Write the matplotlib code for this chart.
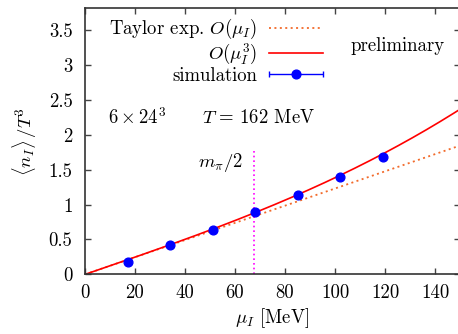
import numpy as np
import matplotlib
matplotlib.use("Agg")
import matplotlib.pyplot as plt
from matplotlib.container import ErrorbarContainer
from matplotlib.legend_handler import HandlerErrorbar

# ================== DATA ==================
mu_sim = [17, 34, 51, 68, 85, 102, 119]              # MeV
n_sim = [0.173, 0.425, 0.640, 0.889, 1.132, 1.394, 1.676]
n_err = [0.005, 0.005, 0.006, 0.008, 0.010, 0.012, 0.015]

taylor_c1 = 0.0123      # coefficient of mu_I
taylor_c3 = 1.54e-7     # coefficient of mu_I^3
mpi_half = 67.5         # m_pi / 2 in MeV
mpi_line_top = 1.8

x_ticks = [0, 20, 40, 60, 80, 100, 120, 140]
y_ticks = [0, 0.5, 1, 1.5, 2, 2.5, 3, 3.5]
y_tick_labels = ["0", "0.5", "1", "1.5", "2", "2.5", "3", "3.5"]

# ================== STYLE ==================
plt.rcParams["font.family"] = "serif"
plt.rcParams["font.serif"] = ["cmr10"]
plt.rcParams["mathtext.fontset"] = "cm"
plt.rcParams["axes.unicode_minus"] = False
plt.rcParams["font.size"] = 13.5

W, H = 458, 334
fig = plt.figure(figsize=(W / 100, H / 100), dpi=100)
ax = fig.add_axes([85 / W, (H - 274.4) / H, 375 / W, 266.4 / H])

# ================== CURVES ==================
xs = np.linspace(0, 150, 300)
lin = taylor_c1 * xs
cub = taylor_c1 * xs + taylor_c3 * xs ** 3

l1, = ax.plot(xs, lin, color="#f26a2a", lw=1.3, ls=(0, (1.1, 1.9)),
              label=r"Taylor exp. $O(\mu_I)$")
l3, = ax.plot(xs, cub, color="#ff0000", lw=1.2, label=r"$O(\mu_I^3)$")

ax.plot([mpi_half, mpi_half], [0, mpi_line_top], color="#ff00ff", lw=1.2,
        ls=(0, (1, 1.8)))

ax.errorbar(mu_sim, n_sim, yerr=n_err, fmt="o", color="#0000ff", ms=6.3,
            elinewidth=1.0, capsize=0, zorder=5)

# legend proxy (horizontal bar with caps, like the reference)
proxy = ax.errorbar([np.nan], [np.nan], xerr=[[1], [1]], fmt="o", color="#0000ff",
                    ms=6.3, elinewidth=1.0, capsize=2.5, capthick=1.0,
                    label="simulation")

hl = 2.9
leg = ax.legend(handles=[l1, l3, proxy], loc="upper right",
                bbox_to_anchor=(0.635, 0.965), frameon=False,
                markerfirst=False, handlelength=hl, handletextpad=0.6,
                labelspacing=0.0, borderpad=0, borderaxespad=0,
                handler_map={ErrorbarContainer: HandlerErrorbar(xerr_size=hl / 2)})
for t in leg.get_texts():
    t.set_ha("right")

# ================== TEXT ==================
ax.text(9.2, 2.24, r"$6\times24^3$", va="center", ha="left")
ax.text(46.7, 2.24, r"$T\,=\,162$ MeV", va="center", ha="left")
ax.text(63, 1.6, r"$m_\pi/2$", va="center", ha="right")
ax.text(106, 3.27, "preliminary", va="center", ha="left")

# ================== AXES ==================
ax.set_xlim(0, 150)
ax.set_ylim(0, 3.815)
ax.set_xticks(x_ticks)
ax.set_yticks(y_ticks)
ax.set_yticklabels(y_tick_labels)
ax.tick_params(direction="in", length=4, width=1.0, top=True, right=True,
               color="#444444")
ax.tick_params(axis="y", pad=9)
ax.tick_params(axis="x", pad=7)
for s in ax.spines.values():
    s.set_linewidth(1.2)
    s.set_color("#333333")

ax.set_xlabel(r"$\mu_I$ [MeV]", labelpad=3)
ax.set_ylabel(r"$\langle n_I\rangle\,/T^3$", labelpad=7)

fig.savefig("out.png", dpi=100)
